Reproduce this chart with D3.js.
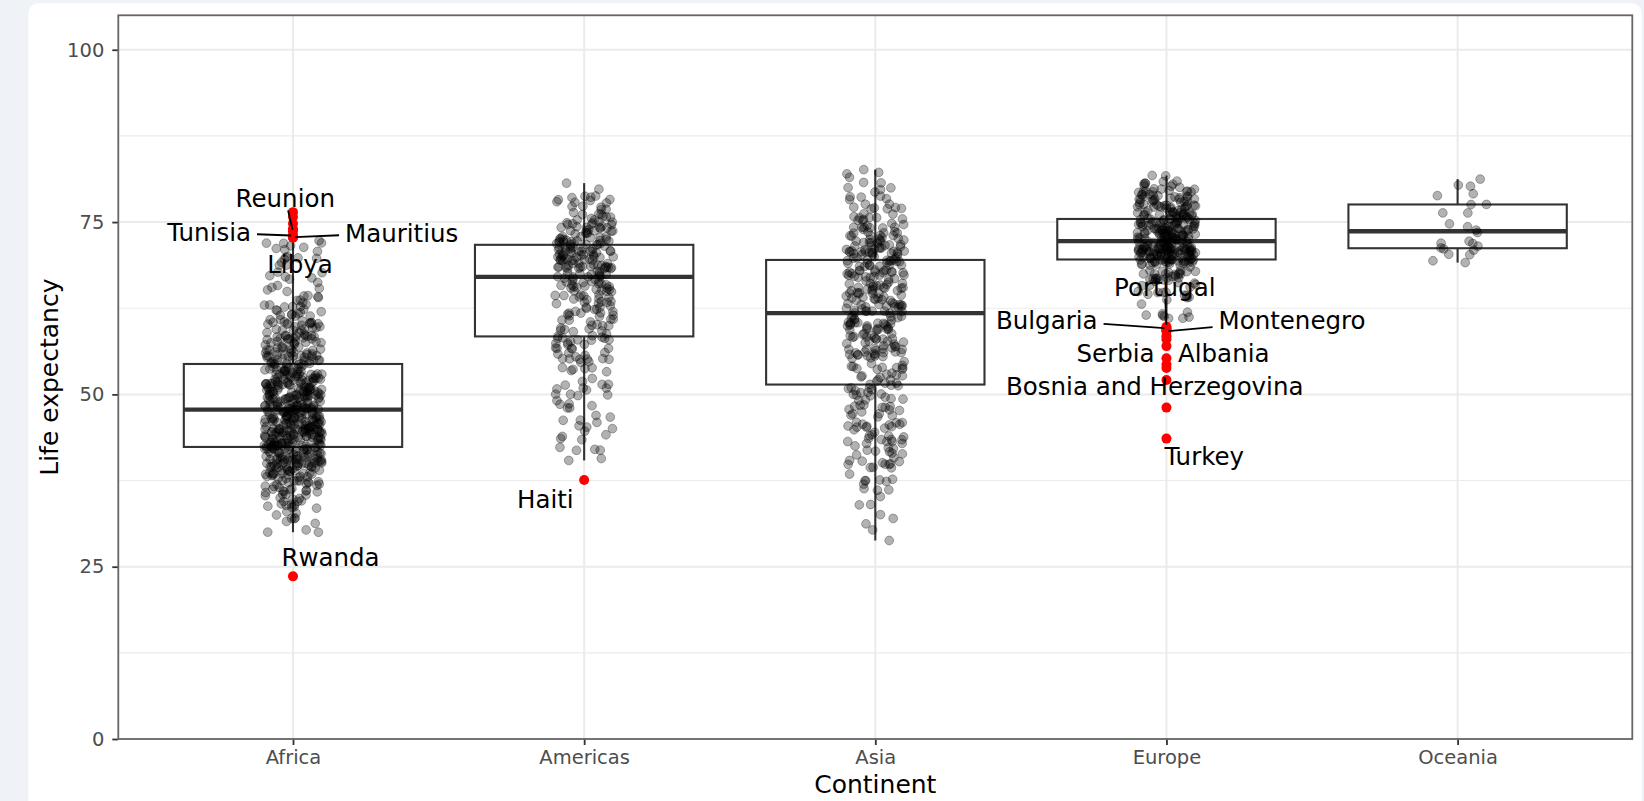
<!DOCTYPE html>
<html>
<head>
<meta charset="utf-8">
<script src="https://cdn.jsdelivr.net/npm/d3@7"></script>
<style>
  html, body { margin: 0; padding: 0; background: #eff3f8; }
  svg { display: block; font-family: "DejaVu Sans", sans-serif; }
</style>
</head>
<body>
<svg id="chart" width="1644" height="801"></svg>
<script>
// Life expectancy by country, 1952-2007 in five-year steps (gapminder).
const years = [1952, 1957, 1962, 1967, 1972, 1977, 1982, 1987, 1992, 1997, 2002, 2007];
const continents = ["Africa", "Americas", "Asia", "Europe", "Oceania"];

const africa = [
  ["Algeria", [43.077, 45.685, 48.303, 51.407, 54.518, 58.014, 61.368, 65.799, 67.744, 69.152, 70.994, 72.301]],
  ["Angola", [30.015, 31.999, 34, 35.985, 37.928, 39.483, 39.942, 39.906, 40.647, 40.963, 41.003, 42.731]],
  ["Benin", [38.223, 40.358, 42.618, 44.885, 47.014, 49.19, 50.904, 52.337, 53.919, 54.777, 54.406, 56.728]],
  ["Botswana", [47.622, 49.618, 51.52, 53.298, 56.024, 59.319, 61.484, 63.622, 62.745, 52.556, 46.634, 50.728]],
  ["Burkina Faso", [31.975, 34.906, 37.814, 40.697, 43.591, 46.137, 48.122, 49.557, 50.26, 50.324, 50.65, 52.295]],
  ["Burundi", [39.031, 40.533, 42.045, 43.548, 44.057, 45.91, 47.471, 48.211, 44.736, 45.326, 47.36, 49.58]],
  ["Cameroon", [38.523, 40.428, 42.643, 44.799, 47.049, 49.355, 52.961, 54.985, 54.314, 52.199, 49.856, 50.43]],
  ["Central African Republic", [35.463, 37.464, 39.475, 41.478, 43.457, 46.775, 48.295, 50.485, 49.396, 46.066, 43.308, 44.741]],
  ["Chad", [38.092, 39.881, 41.716, 43.601, 45.569, 47.383, 49.517, 51.051, 51.724, 51.573, 50.525, 50.651]],
  ["Comoros", [40.715, 42.46, 44.467, 46.472, 48.944, 50.939, 52.933, 54.926, 57.939, 60.66, 62.974, 65.152]],
  ["Congo, Dem. Rep.", [39.143, 40.652, 42.122, 44.056, 45.989, 47.804, 47.784, 47.412, 45.548, 42.587, 44.966, 46.462]],
  ["Congo, Rep.", [42.111, 45.053, 48.435, 52.04, 54.907, 55.625, 56.695, 57.47, 56.433, 52.962, 52.97, 55.322]],
  ["Cote d'Ivoire", [40.477, 42.469, 44.93, 47.35, 49.801, 52.374, 53.983, 54.655, 52.044, 47.991, 46.832, 48.328]],
  ["Djibouti", [34.812, 37.328, 39.693, 42.074, 44.366, 46.519, 48.812, 50.04, 51.604, 53.157, 53.373, 54.791]],
  ["Egypt", [41.893, 44.444, 46.992, 49.293, 51.137, 53.319, 56.006, 59.797, 63.674, 67.217, 69.806, 71.338]],
  ["Equatorial Guinea", [34.482, 35.983, 37.485, 38.987, 40.516, 42.024, 43.662, 45.664, 47.545, 48.245, 49.348, 51.579]],
  ["Eritrea", [35.928, 38.047, 40.158, 42.189, 44.142, 44.535, 43.89, 46.453, 49.991, 53.378, 55.24, 58.04]],
  ["Ethiopia", [34.078, 36.667, 40.059, 42.115, 43.515, 44.51, 44.916, 46.684, 48.091, 49.402, 50.725, 52.947]],
  ["Gabon", [37.003, 38.999, 40.489, 44.598, 48.69, 52.79, 56.564, 60.19, 61.366, 60.461, 56.761, 56.735]],
  ["Gambia", [30, 32.065, 33.896, 35.857, 38.308, 41.842, 45.58, 49.265, 52.644, 55.861, 58.041, 59.448]],
  ["Ghana", [43.149, 44.779, 46.452, 48.072, 49.875, 51.756, 53.744, 55.729, 57.501, 58.556, 58.453, 60.022]],
  ["Guinea", [33.609, 34.558, 35.753, 37.197, 38.842, 40.762, 42.891, 45.552, 48.576, 51.455, 53.676, 56.007]],
  ["Guinea-Bissau", [32.5, 33.489, 34.488, 35.492, 36.486, 37.465, 39.327, 41.245, 43.266, 44.873, 45.504, 46.388]],
  ["Kenya", [42.27, 44.686, 47.949, 50.654, 53.559, 56.155, 58.766, 59.339, 59.285, 54.407, 50.992, 54.11]],
  ["Lesotho", [42.138, 45.047, 47.747, 48.492, 49.767, 52.208, 55.078, 57.18, 59.685, 55.558, 44.593, 42.592]],
  ["Liberia", [38.48, 39.486, 40.502, 41.536, 42.614, 43.764, 44.852, 46.027, 40.802, 42.221, 43.753, 45.678]],
  ["Libya", [42.723, 45.289, 47.808, 50.227, 52.773, 57.442, 62.155, 66.234, 68.755, 71.555, 72.737, 73.952]],
  ["Madagascar", [36.681, 38.865, 40.848, 42.881, 44.851, 46.881, 48.969, 49.35, 52.214, 54.978, 57.286, 59.443]],
  ["Malawi", [36.256, 37.207, 38.41, 39.487, 41.766, 43.767, 45.642, 47.457, 49.42, 47.495, 45.009, 48.303]],
  ["Mali", [33.685, 35.307, 36.936, 38.487, 39.977, 41.714, 43.916, 46.364, 48.388, 49.903, 51.818, 54.467]],
  ["Mauritania", [40.543, 42.338, 44.248, 46.289, 48.437, 50.852, 53.599, 56.145, 58.333, 60.43, 62.247, 64.164]],
  ["Mauritius", [50.986, 58.089, 60.246, 61.557, 62.944, 64.93, 66.711, 68.74, 69.745, 70.736, 71.954, 72.801]],
  ["Morocco", [42.873, 45.423, 47.924, 50.335, 52.862, 55.73, 59.65, 62.677, 65.393, 67.66, 69.615, 71.164]],
  ["Mozambique", [31.286, 33.779, 36.161, 38.113, 40.328, 42.495, 42.795, 42.861, 44.284, 46.344, 44.026, 42.082]],
  ["Namibia", [41.725, 45.226, 48.386, 51.159, 53.867, 56.437, 58.968, 60.835, 61.999, 58.909, 51.479, 52.906]],
  ["Niger", [37.444, 38.598, 39.487, 40.118, 40.546, 41.291, 42.598, 44.555, 47.391, 51.313, 54.496, 56.867]],
  ["Nigeria", [36.324, 37.802, 39.36, 41.04, 42.821, 44.514, 45.826, 46.886, 47.472, 47.464, 46.608, 46.859]],
  ["Reunion", [52.724, 55.09, 57.666, 60.542, 64.274, 67.064, 69.885, 71.913, 73.615, 74.772, 75.744, 76.442]],
  ["Rwanda", [40, 41.5, 43, 44.1, 44.6, 45, 46.218, 44.02, 23.599, 36.087, 43.413, 46.242]],
  ["Sao Tome and Principe", [46.471, 48.945, 51.893, 54.425, 56.48, 58.55, 60.351, 61.728, 62.742, 63.306, 64.337, 65.528]],
  ["Senegal", [37.278, 39.329, 41.454, 43.563, 45.815, 48.879, 52.379, 55.769, 58.196, 60.187, 61.6, 63.062]],
  ["Sierra Leone", [30.331, 31.57, 32.767, 34.113, 35.4, 36.788, 38.445, 40.006, 38.333, 39.897, 41.012, 42.568]],
  ["Somalia", [32.978, 34.977, 36.981, 38.977, 40.973, 41.974, 42.955, 44.501, 39.658, 43.795, 45.936, 48.159]],
  ["South Africa", [45.009, 47.985, 49.951, 51.927, 53.696, 55.527, 58.161, 60.834, 61.888, 60.236, 53.365, 49.339]],
  ["Sudan", [38.635, 39.624, 40.87, 42.858, 45.083, 47.8, 50.338, 51.744, 53.556, 55.373, 56.369, 58.556]],
  ["Swaziland", [41.407, 43.424, 44.992, 46.633, 49.552, 52.537, 55.561, 57.678, 58.474, 54.289, 43.869, 39.613]],
  ["Tanzania", [41.215, 42.974, 44.246, 45.757, 47.62, 49.919, 50.608, 51.535, 50.44, 48.466, 49.651, 52.517]],
  ["Togo", [38.596, 41.208, 43.922, 46.769, 49.759, 52.887, 55.471, 56.941, 58.061, 58.39, 57.561, 58.42]],
  ["Tunisia", [44.6, 47.1, 49.579, 52.053, 55.602, 59.837, 64.048, 66.894, 70.001, 71.973, 73.042, 73.923]],
  ["Uganda", [39.978, 42.571, 45.344, 48.051, 51.016, 50.35, 49.849, 51.509, 48.825, 44.578, 47.813, 51.542]],
  ["Zambia", [42.038, 44.077, 46.023, 47.768, 50.107, 51.386, 51.821, 50.821, 46.1, 40.238, 39.193, 42.384]],
  ["Zimbabwe", [48.451, 50.469, 52.358, 53.995, 55.635, 57.674, 60.363, 62.351, 60.377, 46.809, 39.989, 43.487]]
];

const americas = [
  ["Argentina", [62.485, 64.399, 65.142, 65.634, 67.065, 68.481, 69.942, 70.774, 71.868, 73.275, 74.34, 75.32]],
  ["Bolivia", [40.414, 41.89, 43.428, 45.032, 46.714, 50.023, 53.859, 57.251, 59.957, 62.05, 63.883, 65.554]],
  ["Brazil", [50.917, 53.285, 55.665, 57.632, 59.504, 61.489, 63.336, 65.205, 67.057, 69.388, 71.006, 72.39]],
  ["Canada", [68.75, 69.96, 71.3, 72.13, 72.88, 74.21, 75.76, 76.86, 77.95, 78.61, 79.77, 80.653]],
  ["Chile", [54.745, 56.074, 57.924, 60.523, 63.441, 67.052, 70.565, 72.492, 74.126, 75.816, 77.86, 78.553]],
  ["Colombia", [50.643, 55.118, 57.863, 59.963, 61.623, 63.837, 66.653, 67.768, 68.421, 70.313, 71.682, 72.889]],
  ["Costa Rica", [57.206, 60.026, 62.842, 65.424, 67.849, 70.75, 73.45, 74.752, 75.713, 77.26, 78.123, 78.782]],
  ["Cuba", [59.421, 62.325, 65.246, 68.29, 70.723, 72.649, 73.717, 74.174, 74.414, 76.151, 77.158, 78.273]],
  ["Dominican Republic", [45.928, 49.828, 53.459, 56.751, 59.631, 61.788, 63.727, 66.046, 68.457, 69.957, 70.847, 72.235]],
  ["Ecuador", [48.357, 51.356, 54.64, 56.678, 58.796, 61.31, 64.342, 67.231, 69.613, 72.312, 74.173, 74.994]],
  ["El Salvador", [45.262, 48.57, 52.307, 55.855, 58.207, 56.696, 56.604, 63.154, 66.798, 69.535, 70.734, 71.878]],
  ["Guatemala", [42.023, 44.142, 46.954, 50.016, 53.738, 56.029, 58.137, 60.782, 63.373, 66.322, 68.978, 70.259]],
  ["Haiti", [37.579, 40.696, 43.59, 46.243, 48.042, 49.923, 51.461, 53.636, 55.089, 56.671, 58.137, 60.916]],
  ["Honduras", [41.912, 44.665, 48.041, 50.924, 53.884, 57.402, 60.909, 64.492, 66.399, 67.659, 68.565, 70.198]],
  ["Jamaica", [58.53, 62.61, 65.61, 67.51, 69, 70.11, 71.21, 71.77, 71.766, 72.262, 72.047, 72.567]],
  ["Mexico", [50.789, 55.19, 58.299, 60.11, 62.361, 65.032, 67.405, 69.498, 71.455, 73.67, 74.902, 76.195]],
  ["Nicaragua", [42.314, 45.432, 48.632, 51.884, 55.151, 57.47, 59.298, 62.008, 65.843, 68.426, 70.836, 72.899]],
  ["Panama", [55.191, 59.201, 61.817, 64.071, 66.216, 68.681, 70.472, 71.523, 72.462, 73.738, 74.712, 75.537]],
  ["Paraguay", [62.649, 63.196, 64.361, 64.951, 65.815, 66.353, 66.874, 67.378, 68.225, 69.4, 70.755, 71.752]],
  ["Peru", [43.902, 46.263, 49.096, 51.445, 55.448, 58.447, 61.406, 64.134, 66.458, 68.386, 69.906, 71.421]],
  ["Puerto Rico", [64.28, 68.54, 69.62, 71.1, 72.16, 73.44, 73.75, 74.63, 73.911, 74.917, 77.778, 78.746]],
  ["Trinidad and Tobago", [59.1, 61.8, 64.9, 65.4, 65.9, 68.3, 68.832, 69.582, 69.862, 69.465, 68.976, 69.819]],
  ["United States", [68.44, 69.49, 70.21, 70.76, 71.34, 73.38, 74.65, 75.02, 76.09, 76.81, 77.31, 78.242]],
  ["Uruguay", [66.071, 67.044, 68.253, 68.468, 68.673, 69.481, 70.805, 71.918, 72.752, 74.223, 75.307, 76.384]],
  ["Venezuela", [55.088, 57.907, 60.77, 63.479, 65.712, 67.456, 68.557, 70.19, 71.15, 72.146, 72.766, 73.747]]
];

const asia = [
  ["Afghanistan", [28.801, 30.332, 31.997, 34.02, 36.088, 38.438, 39.854, 40.822, 41.674, 41.763, 42.129, 43.828]],
  ["Bahrain", [50.939, 53.832, 56.923, 59.923, 63.3, 65.593, 69.052, 70.75, 72.601, 73.925, 74.795, 75.635]],
  ["Bangladesh", [37.484, 39.348, 41.216, 43.453, 45.252, 46.923, 50.009, 52.819, 56.018, 59.412, 62.013, 64.062]],
  ["Cambodia", [39.417, 41.366, 43.415, 45.415, 40.317, 31.22, 50.957, 53.914, 55.803, 56.534, 56.752, 59.723]],
  ["China", [44, 50.549, 44.501, 58.381, 63.119, 63.967, 65.525, 67.274, 68.69, 70.426, 72.028, 72.961]],
  ["Hong Kong, China", [60.96, 64.75, 67.65, 70, 72, 73.6, 75.45, 76.2, 77.601, 80, 81.495, 82.208]],
  ["India", [37.373, 40.249, 43.605, 47.193, 50.651, 54.208, 56.596, 58.553, 60.223, 61.765, 62.879, 64.698]],
  ["Indonesia", [37.468, 39.918, 42.518, 45.964, 49.203, 52.702, 56.159, 60.137, 62.681, 66.041, 68.588, 70.65]],
  ["Iran", [44.869, 47.181, 49.325, 52.469, 55.234, 57.702, 59.62, 63.04, 65.742, 68.042, 69.451, 70.964]],
  ["Iraq", [45.32, 48.437, 51.457, 54.459, 56.95, 60.413, 62.038, 65.044, 59.461, 58.811, 57.046, 59.545]],
  ["Israel", [65.39, 67.84, 69.39, 70.75, 71.63, 73.06, 74.45, 75.6, 76.93, 78.269, 79.696, 80.745]],
  ["Japan", [63.03, 65.5, 68.73, 71.43, 73.42, 75.38, 77.11, 78.67, 79.36, 80.69, 82, 82.603]],
  ["Jordan", [43.158, 45.669, 48.126, 51.629, 56.528, 61.134, 63.739, 65.869, 68.015, 69.772, 71.263, 72.535]],
  ["Korea, Dem. Rep.", [50.056, 54.081, 56.656, 59.942, 63.983, 67.159, 69.1, 70.647, 69.978, 67.727, 66.662, 67.297]],
  ["Korea, Rep.", [47.453, 52.681, 55.292, 57.716, 62.612, 64.766, 67.123, 69.81, 72.244, 74.647, 77.045, 78.623]],
  ["Kuwait", [55.565, 58.033, 60.47, 64.624, 67.712, 69.343, 71.309, 74.174, 75.19, 76.156, 76.904, 77.588]],
  ["Lebanon", [55.928, 59.489, 62.094, 63.87, 65.421, 66.099, 66.983, 67.926, 69.292, 70.265, 71.028, 71.993]],
  ["Malaysia", [48.463, 52.102, 55.737, 59.371, 63.01, 65.256, 68, 69.5, 70.693, 71.938, 73.044, 74.241]],
  ["Mongolia", [42.244, 45.248, 48.251, 51.253, 53.754, 55.491, 57.489, 60.222, 61.271, 63.625, 65.033, 66.803]],
  ["Myanmar", [36.319, 41.905, 45.108, 49.379, 53.07, 56.059, 58.056, 58.339, 59.32, 60.328, 59.908, 62.069]],
  ["Nepal", [36.157, 37.686, 39.393, 41.472, 43.971, 46.748, 49.594, 52.537, 55.727, 59.426, 61.34, 63.785]],
  ["Oman", [37.578, 40.08, 43.165, 46.988, 52.143, 57.367, 62.728, 67.734, 71.197, 72.499, 74.193, 75.64]],
  ["Pakistan", [43.436, 45.557, 47.67, 49.8, 51.929, 54.043, 56.158, 58.245, 60.838, 61.818, 63.61, 65.483]],
  ["Philippines", [47.752, 51.334, 54.757, 56.393, 58.065, 60.06, 62.082, 64.151, 66.458, 68.564, 70.303, 71.688]],
  ["Saudi Arabia", [39.875, 42.868, 45.914, 49.901, 53.886, 58.69, 63.012, 66.295, 68.768, 70.533, 71.626, 72.777]],
  ["Singapore", [60.396, 63.179, 65.798, 67.946, 69.521, 70.795, 71.76, 73.56, 75.788, 77.158, 78.77, 79.972]],
  ["Sri Lanka", [57.593, 61.456, 62.192, 64.266, 65.042, 65.949, 68.757, 69.011, 70.379, 70.457, 70.815, 72.396]],
  ["Syria", [45.883, 48.284, 50.305, 53.655, 57.296, 61.195, 64.59, 66.974, 69.249, 71.527, 73.053, 74.143]],
  ["Taiwan", [58.5, 62.4, 65.2, 67.5, 69.39, 70.59, 72.16, 73.4, 74.26, 75.25, 76.99, 78.4]],
  ["Thailand", [50.848, 53.63, 56.061, 58.285, 60.405, 62.494, 64.597, 66.084, 67.298, 67.521, 68.564, 70.616]],
  ["Vietnam", [40.412, 42.887, 45.363, 47.838, 50.254, 55.764, 58.816, 62.82, 67.662, 70.672, 73.017, 74.249]],
  ["West Bank and Gaza", [43.16, 45.671, 48.127, 51.631, 56.532, 60.765, 64.406, 67.046, 69.718, 71.096, 72.37, 73.422]],
  ["Yemen, Rep.", [32.548, 33.97, 35.18, 36.984, 39.848, 44.175, 49.113, 52.922, 55.599, 58.02, 60.308, 62.698]]
];

const europe = [
  ["Albania", [55.23, 59.28, 64.82, 66.22, 67.69, 68.93, 70.42, 72, 71.581, 72.95, 75.651, 76.423]],
  ["Austria", [66.8, 67.48, 69.54, 70.14, 70.63, 72.17, 73.18, 74.94, 76.04, 77.51, 78.98, 79.829]],
  ["Belgium", [68, 69.24, 70.25, 70.94, 71.44, 72.8, 73.93, 75.35, 76.46, 77.53, 78.32, 79.441]],
  ["Bosnia and Herzegovina", [53.82, 58.45, 61.93, 64.79, 67.45, 69.86, 70.69, 71.14, 72.178, 73.244, 74.09, 74.852]],
  ["Bulgaria", [59.6, 66.61, 69.51, 70.42, 70.9, 70.81, 71.08, 71.34, 71.19, 70.32, 72.14, 73.005]],
  ["Croatia", [61.21, 64.77, 67.13, 68.5, 69.61, 70.64, 70.46, 71.52, 72.527, 73.68, 74.876, 75.748]],
  ["Czech Republic", [66.87, 69.03, 69.9, 70.38, 70.29, 70.71, 70.96, 71.58, 72.4, 74.01, 75.51, 76.486]],
  ["Denmark", [70.78, 71.81, 72.35, 72.96, 73.47, 74.69, 74.63, 74.8, 75.33, 76.11, 77.18, 78.332]],
  ["Finland", [66.55, 67.49, 68.75, 69.83, 70.87, 72.52, 74.55, 74.83, 75.7, 77.13, 78.37, 79.313]],
  ["France", [67.41, 68.93, 70.51, 71.55, 72.38, 73.83, 74.89, 76.34, 77.46, 78.64, 79.59, 80.657]],
  ["Germany", [67.5, 69.1, 70.3, 70.8, 71, 72.5, 73.8, 74.847, 76.07, 77.34, 78.67, 79.406]],
  ["Greece", [65.86, 67.86, 69.51, 71, 72.34, 73.68, 75.24, 76.67, 77.03, 77.869, 78.256, 79.483]],
  ["Hungary", [64.03, 66.41, 67.96, 69.5, 69.76, 69.95, 69.39, 69.58, 69.17, 71.04, 72.59, 73.338]],
  ["Iceland", [72.49, 73.47, 73.68, 73.73, 74.46, 76.11, 76.99, 77.23, 78.77, 78.95, 80.5, 81.757]],
  ["Ireland", [66.91, 68.9, 70.29, 71.08, 71.28, 72.03, 73.1, 74.36, 75.467, 76.122, 77.783, 78.885]],
  ["Italy", [65.94, 67.81, 69.24, 71.06, 72.19, 73.48, 74.98, 76.42, 77.44, 78.82, 80.24, 80.546]],
  ["Montenegro", [59.164, 61.448, 63.728, 67.178, 70.636, 73.066, 74.101, 74.865, 75.435, 75.445, 73.981, 74.543]],
  ["Netherlands", [72.13, 72.99, 73.23, 73.82, 73.75, 75.24, 76.05, 76.83, 77.42, 78.03, 78.53, 79.762]],
  ["Norway", [72.67, 73.44, 73.47, 74.08, 74.34, 75.37, 75.97, 75.89, 77.32, 78.32, 79.05, 80.196]],
  ["Poland", [61.31, 65.77, 67.64, 69.61, 70.85, 70.67, 71.32, 70.98, 70.99, 72.75, 74.67, 75.563]],
  ["Portugal", [59.82, 61.51, 64.39, 66.6, 69.26, 70.41, 72.77, 74.06, 74.86, 75.97, 77.29, 78.098]],
  ["Romania", [61.05, 64.1, 66.8, 66.8, 69.21, 69.46, 69.66, 69.53, 69.36, 69.72, 71.322, 72.476]],
  ["Serbia", [57.996, 61.685, 64.531, 66.914, 68.7, 70.3, 70.162, 71.218, 71.659, 72.232, 73.213, 74.002]],
  ["Slovak Republic", [64.36, 67.45, 70.33, 70.98, 70.35, 70.45, 70.8, 71.08, 71.38, 72.71, 73.8, 74.663]],
  ["Slovenia", [65.57, 67.85, 69.15, 69.18, 69.82, 70.97, 71.063, 72.25, 73.64, 75.13, 76.66, 77.926]],
  ["Spain", [64.94, 66.66, 69.69, 71.44, 73.06, 74.39, 76.3, 76.9, 77.57, 78.77, 79.78, 80.941]],
  ["Sweden", [71.86, 72.49, 73.37, 74.16, 74.72, 75.44, 76.42, 77.19, 78.16, 79.39, 80.04, 80.884]],
  ["Switzerland", [69.62, 70.56, 71.32, 72.77, 73.78, 75.39, 76.21, 77.41, 78.03, 79.37, 80.62, 81.701]],
  ["Turkey", [43.585, 48.079, 52.098, 54.336, 57.005, 59.507, 61.036, 63.108, 66.146, 68.835, 70.845, 71.777]],
  ["United Kingdom", [69.18, 70.42, 70.76, 71.36, 72.01, 72.76, 74.04, 75.007, 76.42, 77.218, 78.471, 79.425]]
];

const oceania = [
  ["Australia", [69.12, 70.33, 70.93, 71.1, 71.93, 73.49, 74.74, 76.32, 77.56, 78.83, 80.37, 81.235]],
  ["New Zealand", [69.39, 70.26, 71.24, 71.52, 71.89, 72.22, 73.84, 74.32, 76.33, 77.55, 79.11, 80.204]]
];

const yTicks = [0, 25, 50, 75, 100];
const yMinorTicks = [12.5, 37.5, 62.5, 87.5];

// Which outlying countries get a name tag, the observation it points to,
// and where the tag sits relative to that point (px).
const tagged = [
  { country: "Reunion", year: 1992, dx: -7.7, dy: -24.3, segment: true },
  { country: "Tunisia", year: 2002, dx: -83.8, dy: 5.9, segment: true },
  { country: "Mauritius", year: 2007, dx: 108.7, dy: 4.3, segment: true },
  { country: "Libya", year: 2002, dx: 7, dy: 35.6, segment: false },
  { country: "Rwanda", year: 1992, dx: 37.5, dy: -10.6, segment: false },
  { country: "Haiti", year: 1952, dx: -38.8, dy: 27.7, segment: false },
  { country: "Portugal", year: 1952, dx: -1.7, dy: -31, segment: true },
  { country: "Bulgaria", year: 1952, dx: -119.7, dy: 0.8, segment: true },
  { country: "Montenegro", year: 1952, dx: 125.6, dy: -2.2, segment: true },
  { country: "Serbia", year: 1952, dx: -50.9, dy: 22.4, segment: false },
  { country: "Albania", year: 1952, dx: 57.3, dy: 3.4, segment: false },
  { country: "Bosnia and Herzegovina", year: 1952, dx: -11.7, dy: 27, segment: false },
  { country: "Turkey", year: 1952, dx: 37.8, dy: 26.4, segment: false }
];

// ---------------------------------------------------------------------------
const byContinent = { Africa: africa, Americas: americas, Asia: asia, Europe: europe, Oceania: oceania };

const records = [];
continents.forEach(c => {
  byContinent[c].forEach(([country, vals]) => {
    vals.forEach((v, i) => records.push({ continent: c, country, year: years[i], lifeExp: v }));
  });
});

// Tukey box statistics (R type-7 quantiles, 1.5 IQR whiskers)
const stats = continents.map(c => {
  const v = records.filter(r => r.continent === c).map(r => r.lifeExp).sort(d3.ascending);
  const q1 = d3.quantile(v, 0.25), med = d3.quantile(v, 0.5), q3 = d3.quantile(v, 0.75);
  const iqr = q3 - q1, lo = q1 - 1.5 * iqr, hi = q3 + 1.5 * iqr;
  const inside = v.filter(d => d >= lo && d <= hi);
  return { continent: c, q1, med, q3, lo, hi, wLow: d3.min(inside), wHigh: d3.max(inside) };
});
const statOf = Object.fromEntries(stats.map(s => [s.continent, s]));
records.forEach(r => {
  const s = statOf[r.continent];
  r.outlier = r.lifeExp < s.lo || r.lifeExp > s.hi;
});

// ---------------------------------------------------------------------------
const svg = d3.select("#chart");
const panel = { left: 118.3, top: 15.3, right: 1632.3, bottom: 739 };

svg.append("rect")
  .attr("x", 28.3).attr("y", 3.3).attr("width", 1613.4).attr("height", 860)
  .attr("rx", 10).attr("fill", "#ffffff");

const x = d3.scalePoint().domain(continents).range([panel.left, panel.right]).padding(0.6);
const y = d3.scaleLinear().domain([0, 105]).range([panel.bottom, panel.top]);
const step = x.step();

// grid
const grid = svg.append("g");
grid.selectAll(".minor").data(yMinorTicks).join("line")
  .attr("x1", panel.left).attr("x2", panel.right)
  .attr("y1", d => y(d)).attr("y2", d => y(d))
  .attr("stroke", "#ebebeb").attr("stroke-width", 1.1);
grid.selectAll(".major").data(yTicks).join("line")
  .attr("x1", panel.left).attr("x2", panel.right)
  .attr("y1", d => y(d)).attr("y2", d => y(d))
  .attr("stroke", "#ebebeb").attr("stroke-width", 2);
grid.selectAll(".vmajor").data(continents).join("line")
  .attr("x1", d => x(d)).attr("x2", d => x(d))
  .attr("y1", panel.top).attr("y2", panel.bottom)
  .attr("stroke", "#ebebeb").attr("stroke-width", 2);

// boxplots
const boxHalf = 0.375 * step;
const boxes = svg.append("g").selectAll("g").data(stats).join("g");
boxes.append("line")
  .attr("x1", d => x(d.continent)).attr("x2", d => x(d.continent))
  .attr("y1", d => y(d.q3)).attr("y2", d => y(d.wHigh))
  .attr("stroke", "#333").attr("stroke-width", 2.1);
boxes.append("line")
  .attr("x1", d => x(d.continent)).attr("x2", d => x(d.continent))
  .attr("y1", d => y(d.q1)).attr("y2", d => y(d.wLow))
  .attr("stroke", "#333").attr("stroke-width", 2.1);
boxes.append("rect")
  .attr("x", d => x(d.continent) - boxHalf).attr("width", 2 * boxHalf)
  .attr("y", d => y(d.q3)).attr("height", d => y(d.q1) - y(d.q3))
  .attr("fill", "#fff").attr("stroke", "#333").attr("stroke-width", 2.1);
boxes.append("line")
  .attr("x1", d => x(d.continent) - boxHalf).attr("x2", d => x(d.continent) + boxHalf)
  .attr("y1", d => y(d.med)).attr("y2", d => y(d.med))
  .attr("stroke", "#333").attr("stroke-width", 4.3);

// horizontally jittered observations (seeded so the layout is stable)
function mulberry32(a) {
  return function () {
    a |= 0; a = a + 0x6D2B79F5 | 0;
    let t = Math.imul(a ^ a >>> 15, 1 | a);
    t = t + Math.imul(t ^ t >>> 7, 61 | t) ^ t;
    return ((t ^ t >>> 14) >>> 0) / 4294967296;
  };
}
const jitter = mulberry32(20240607);
const jitterWidth = 0.1;
const regular = records.filter(r => !r.outlier);
regular.forEach(r => { r.jx = (jitter() * 2 - 1) * jitterWidth * step; });

svg.append("g").selectAll("circle").data(regular).join("circle")
  .attr("cx", d => x(d.continent) + d.jx)
  .attr("cy", d => y(d.lifeExp))
  .attr("r", 4.4)
  .attr("fill", "#000").attr("fill-opacity", 0.3)
  .attr("stroke", "#000").attr("stroke-opacity", 0.3).attr("stroke-width", 1);

// outliers
const outliers = records.filter(r => r.outlier);
svg.append("g").selectAll("circle").data(outliers).join("circle")
  .attr("cx", d => x(d.continent))
  .attr("cy", d => y(d.lifeExp))
  .attr("r", 5)
  .attr("fill", "#ff0000");

// axes
const tickColor = "#333", tickText = "#4d4d4d";
const yAxis = svg.append("g").attr("transform", `translate(${panel.left},0)`)
  .call(d3.axisLeft(y).tickValues(yTicks).tickSize(6).tickPadding(8).tickFormat(d3.format("d")));
yAxis.select(".domain").remove();
yAxis.selectAll("line").attr("stroke", tickColor).attr("stroke-width", 1.8);
yAxis.selectAll("text").attr("fill", tickText).attr("font-size", 19.5)
  .attr("font-family", "DejaVu Sans");

const xAxis = svg.append("g").attr("transform", `translate(0,${panel.bottom})`)
  .call(d3.axisBottom(x).tickSize(6).tickPadding(5));
xAxis.select(".domain").remove();
xAxis.selectAll("line").attr("stroke", tickColor).attr("stroke-width", 1.8);
xAxis.selectAll("text").attr("fill", tickText).attr("font-size", 19.5)
  .attr("font-family", "DejaVu Sans");

// panel border
svg.append("rect")
  .attr("x", panel.left).attr("y", panel.top)
  .attr("width", panel.right - panel.left).attr("height", panel.bottom - panel.top)
  .attr("fill", "none").attr("stroke", "#666").attr("stroke-width", 1.8);

// axis titles
svg.append("text")
  .attr("x", (panel.left + panel.right) / 2).attr("y", 793)
  .attr("text-anchor", "middle").attr("font-size", 25).attr("fill", "#000")
  .text("Continent");
svg.append("text")
  .attr("transform", `translate(58,${(panel.top + panel.bottom) / 2}) rotate(-90)`)
  .attr("text-anchor", "middle").attr("font-size", 25).attr("fill", "#000")
  .text("Life expectancy");

// name tags for outlying countries
const tagSize = 24.5;
const tagLayer = svg.append("g");
tagged.forEach(t => {
  const rec = records.find(r => r.country === t.country && r.year === t.year);
  const px = x(rec.continent), py = y(rec.lifeExp);
  const cx = px + t.dx, base = py + t.dy;
  const txt = tagLayer.append("text")
    .attr("x", cx).attr("y", base)
    .attr("text-anchor", "middle").attr("font-size", tagSize).attr("fill", "#000")
    .text(t.country);
  if (t.segment) {
    const w = txt.node().getComputedTextLength();
    const mid = base - 0.365 * tagSize;
    const halfW = w / 2 + 6, halfH = 12;
    const vx = px - cx, vy = py - mid;
    const s = Math.min(vx !== 0 ? halfW / Math.abs(vx) : Infinity, vy !== 0 ? halfH / Math.abs(vy) : Infinity);
    const x0 = cx + vx * s, y0 = mid + vy * s;
    const len = Math.hypot(px - x0, py - y0);
    const x1 = px - (px - x0) / len * 2, y1 = py - (py - y0) / len * 2;
    tagLayer.insert("line", "text")
      .attr("x1", x0).attr("y1", y0).attr("x2", x1).attr("y2", y1)
      .attr("stroke", "#000").attr("stroke-width", 1.8);
  }
});
</script>
</body>
</html>
